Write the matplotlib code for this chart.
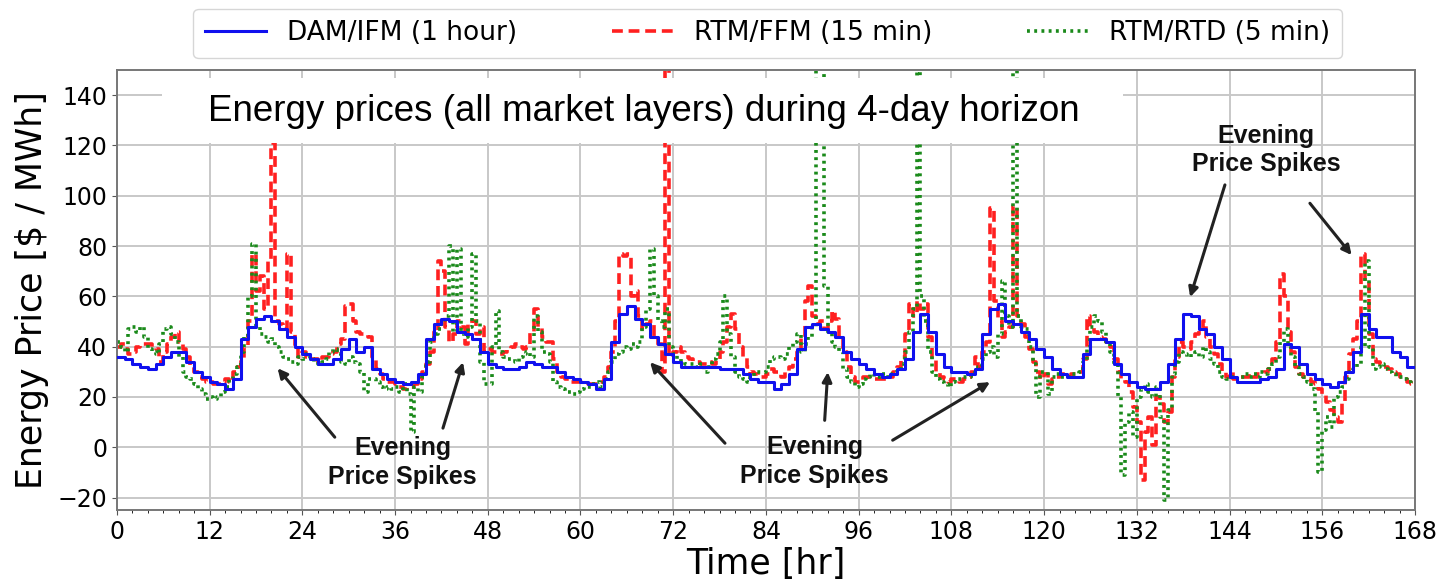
import numpy as np
import matplotlib
matplotlib.use("Agg")
import matplotlib.pyplot as plt
from matplotlib.patches import Rectangle

# Day-ahead (hourly) prices, 168 values
dam_prices = [
    36, 35, 33, 32, 31, 33, 36, 38, 38, 34, 30, 28, 26, 25, 23, 27, 43, 48, 51, 52, 50, 47, 44, 40,
    37, 35, 33, 33, 35, 39, 43, 38, 40, 31, 29, 27, 26, 25, 26, 29, 43, 49, 51, 50, 46, 45, 43, 38,
    33, 32, 31, 31, 32, 34, 33, 32, 32, 30, 28, 27, 26, 25, 23, 27, 42, 53, 56, 51, 49, 44, 41, 37,
    34, 32, 32, 32, 32, 32, 31, 31, 31, 29, 27, 26, 26, 23, 25, 29, 39, 48, 49, 47, 46, 44, 38, 35,
    33, 31, 29, 28, 29, 31, 35, 46, 53, 46, 37, 32, 30, 30, 29, 31, 45, 55, 57, 50, 49, 46, 43, 39,
    36, 31, 29, 28, 28, 37, 43, 43, 42, 33, 29, 26, 24, 23, 23, 26, 33, 43, 53, 52, 47, 45, 40, 35,
    28, 26, 26, 26, 27, 28, 31, 41, 40, 33, 29, 27, 25, 24, 26, 30, 38, 53, 47, 44, 44, 38, 36, 32,
]

# Real-time FFM prices, read every half hour (336 values)
rtm_ffm = [
    40, 41, 39, 37, 38, 40, 41, 41, 41, 40, 39, 34, 38, 41, 44, 46, 42, 39, 36, 32, 30, 28, 27, 26,
    26, 25, 25, 26, 27, 26, 30, 32, 35, 40, 50, 77, 62, 68, 55, 74, 121, 50, 49, 47, 77, 46, 40, 36,
    38, 36, 35, 35, 34, 36, 36, 37, 38, 41, 43, 56, 57, 50, 46, 45, 45, 44, 36, 31, 29, 27, 26, 26,
    25, 24, 23, 24, 24, 25, 27, 30, 33, 38, 46, 74, 70, 48, 42, 45, 50, 48, 41, 49, 50, 45, 48, 38,
    39, 38, 38, 37, 38, 39, 40, 41, 40, 39, 40, 46, 55, 48, 44, 42, 42, 35, 30, 28, 27, 26, 26, 26,
    26, 26, 25, 25, 25, 26, 28, 32, 38, 50, 77, 76, 77, 60, 62, 52, 47, 49, 50, 44, 41, 30, 165, 36,
    38, 40, 38, 36, 35, 34, 34, 33, 33, 34, 33, 35, 38, 42, 48, 53, 47, 40, 36, 32, 30, 29, 28, 28,
    29, 31, 30, 29, 28, 30, 32, 35, 38, 44, 58, 64, 52, 49, 50, 47, 50, 54, 51, 44, 38, 32, 28, 26,
    26, 28, 28, 27, 27, 27, 27, 27, 28, 30, 32, 36, 45, 57, 52, 58, 55, 57, 44, 35, 30, 28, 27, 26,
    27, 27, 26, 27, 28, 30, 36, 32, 38, 42, 95, 58, 50, 44, 46, 48, 96, 52, 49, 44, 39, 34, 30, 27,
    29, 25, 27, 28, 29, 29, 28, 29, 29, 30, 35, 52, 48, 46, 44, 43, 42, 40, 35, 30, 27, 26, 22, 16,
    10, -13, 6, 12, 1, 20, 17, 10, 14, 28, 36, 42, 40, 39, 42, 45, 47, 50, 44, 40, 37, 33, 30, 28,
    30, 27, 28, 28, 28, 29, 28, 29, 29, 30, 31, 35, 42, 69, 60, 46, 38, 32, 29, 28, 27, 26, 25, 23,
    21, 18, 15, 12, 10, 18, 28, 37, 43, 50, 77, 66, 45, 35, 34, 33, 32, 31, 30, 29, 28, 27, 26, 25,
]

# Real-time RTD prices, read every half hour (336 values)
rtm_rtd = [
    42, 40, 38, 47, 48, 46, 48, 44, 39, 38, 37, 41, 47, 48, 45, 42, 36, 30, 28, 27, 25, 23, 21, 19,
    20, 19, 20, 22, 24, 27, 29, 32, 38, 44, 60, 81, 48, 45, 44, 42, 43, 40, 38, 36, 35, 34, 33, 36,
    35, 37, 35, 34, 33, 34, 35, 38, 39, 37, 34, 33, 36, 34, 33, 30, 22, 27, 27, 26, 24, 23, 24, 23,
    24, 22, 25, 21, 6, 24, 22, 28, 34, 42, 45, 47, 49, 52, 80, 46, 79, 45, 44, 48, 77, 50, 34, 25,
    25, 40, 54, 38, 36, 35, 35, 34, 36, 37, 38, 36, 52, 46, 38, 37, 34, 26, 24, 23, 22, 22, 21, 22,
    23, 24, 24, 25, 26, 24, 27, 30, 34, 37, 38, 40, 39, 41, 40, 42, 48, 55, 79, 60, 50, 48, 55, 40,
    37, 35, 34, 33, 33, 33, 32, 33, 30, 32, 35, 37, 42, 60, 45, 36, 30, 28, 27, 26, 28, 30, 30, 30,
    32, 35, 36, 36, 35, 37, 40, 42, 45, 38, 41, 44, 48, 160, 170, 64, 46, 42, 40, 38, 31, 28, 26, 24,
    25, 27, 28, 29, 28, 28, 29, 28, 29, 30, 31, 33, 38, 46, 55, 165, 60, 50, 38, 30, 27, 26, 25, 24,
    26, 27, 27, 28, 28, 29, 31, 32, 35, 38, 40, 36, 45, 66, 52, 48, 165, 52, 48, 47, 40, 33, 20, 30,
    30, 21, 28, 29, 28, 28, 28, 29, 29, 30, 34, 40, 48, 52, 50, 46, 42, 38, 33, 20, -11, 10, 14, 4,
    20, 23, 25, 22, 20, 24, 12, -21, 15, 29, 34, 38, 37, 36, 37, 38, 36, 40, 38, 35, 33, 30, 28, 27,
    28, 27, 28, 28, 29, 28, 29, 28, 30, 29, 31, 33, 36, 42, 47, 40, 36, 32, 29, 28, 26, 23, 14, -10,
    7, 12, 8, 20, 22, 24, 27, 30, 31, 33, 40, 74, 40, 31, 32, 33, 31, 30, 29, 28, 28, 27, 26, 25,
]

x_ticks = [0, 12, 24, 36, 48, 60, 72, 84, 96, 108, 120, 132, 144, 156, 168]
y_ticks = [-20, 0, 20, 40, 60, 80, 100, 120, 140]

t_dam = np.arange(len(dam_prices) + 1)
t_half = np.arange(len(rtm_ffm) + 1) * 0.5

fig = plt.figure(figsize=(14.43, 5.83), dpi=100)
ax = fig.add_axes([0.081, 0.125, 0.8996, 0.755])

ax.step(t_dam, dam_prices + [dam_prices[-1]], where="post", color="#1010ee",
        lw=2.2, label="DAM/IFM (1 hour)", zorder=3)
ax.step(t_half, rtm_ffm + [rtm_ffm[-1]], where="post", color="#ff2020",
        lw=2.6, ls=(0, (3, 1.6)), label="RTM/FFM (15 min)", zorder=2)
ax.step(t_half, rtm_rtd + [rtm_rtd[-1]], where="post", color="#1a8a1a",
        lw=2.6, ls=(0, (0.8, 1.2)), label="RTM/RTD (5 min)", zorder=2.5)

ax.set_xlim(0, 168)
ax.set_ylim(-25, 150)
ax.set_xticks(x_ticks)
ax.set_xticks(np.arange(0, 169, 2), minor=True)
ax.set_yticks(y_ticks)
ax.tick_params(axis="both", labelsize=17, color="#555555")
ax.grid(True, color="#c8c8c8", lw=1.4)
ax.set_axisbelow(True)
for s in ax.spines.values():
    s.set_color("#777777")
    s.set_linewidth(1.4)

ax.set_xlabel("Time [hr]", fontsize=25, labelpad=2)
ax.set_ylabel("Energy Price [$ / MWh]", fontsize=25, labelpad=6)

# white box behind the caption
ax.add_patch(Rectangle((0.035, 0.834), 0.740, 0.148, transform=ax.transAxes,
                       facecolor="white", edgecolor="none", zorder=4))
ax.text(0.406, 0.905, "Energy prices (all market layers) during 4-day horizon",
        transform=ax.transAxes, ha="center", va="center", fontsize=26.5,
        family="Liberation Sans", zorder=5)

fig.legend(loc="upper center", bbox_to_anchor=(0.532, 1.008), ncol=3, fontsize=19,
           frameon=True, edgecolor="#cccccc", handlelength=2.3, columnspacing=3.6,
           borderpad=0.45)

# annotations
ann_font = dict(fontsize=18, fontweight="bold", family="Liberation Sans",
                ha="center", va="center", color="#111111", linespacing=1.25)
arrow = dict(arrowstyle="-|>", color="#222222", lw=2.2, mutation_scale=14,
             shrinkA=0, shrinkB=0)

ax.text(37.0, -6.0, "Evening\nPrice Spikes", **ann_font)
ax.annotate("", xy=(20.8, 31.4), xytext=(28.2, 4.0), arrowprops=arrow)
ax.annotate("", xy=(44.8, 33.8), xytext=(42.2, 7.6), arrowprops=arrow)

ax.text(90.3, -5.6, "Evening\nPrice Spikes", **ann_font)
ax.annotate("", xy=(69.0, 33.8), xytext=(78.7, 1.6), arrowprops=arrow)
ax.annotate("", xy=(92.0, 29.9), xytext=(91.6, 10.7), arrowprops=arrow)
ax.annotate("", xy=(113.0, 25.9), xytext=(100.4, 2.8), arrowprops=arrow)

ax.text(148.7, 118.2, "Evening\nPrice Spikes", **ann_font)
ax.annotate("", xy=(138.9, 59.7), xytext=(143.4, 104.3), arrowprops=arrow)
ax.annotate("", xy=(159.8, 76.4), xytext=(154.4, 97.0), arrowprops=arrow)

fig.savefig("out.png", dpi=100)
